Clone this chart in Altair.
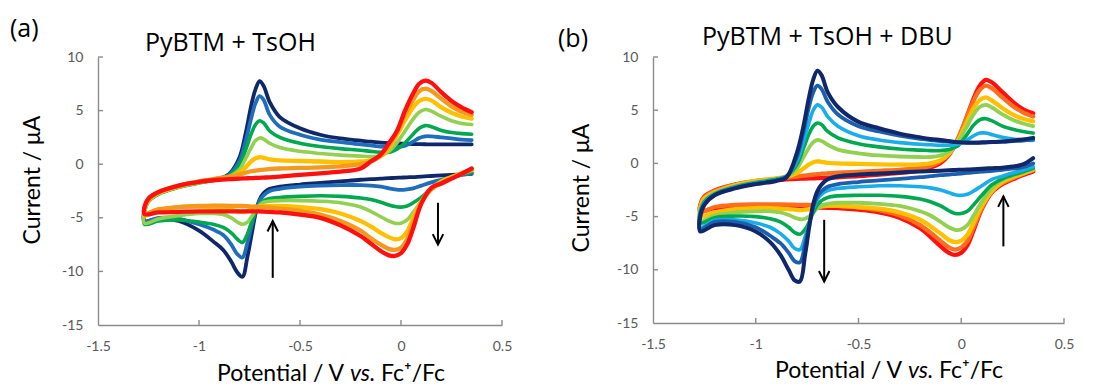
import altair as alt
import pandas as pd

# ---------------------------------------------------------------------------
# Potential grids (V vs. Fc+/Fc). Each scan starts at +0.35 V, runs cathodic
# (X_DN) to -1.27 V and returns anodic (X_UP) to +0.35 V.
# ---------------------------------------------------------------------------
X_UP = [-1.27, -1.25, -1.2, -1.1, -1.0, -0.9, -0.85, -0.8, -0.77, -0.74,
        -0.72, -0.70, -0.68, -0.65, -0.6, -0.5, -0.4, -0.3, -0.2, -0.15,
        -0.1, -0.06, -0.02, 0.02, 0.06, 0.09, 0.12, 0.15, 0.2, 0.25,
        0.3, 0.35]
X_DN = [0.35, 0.3, 0.25, 0.2, 0.15, 0.1, 0.06, 0.03, 0.0, -0.03,
        -0.06, -0.1, -0.15, -0.2, -0.3, -0.4, -0.5, -0.6, -0.65, -0.68,
        -0.7, -0.72, -0.74, -0.76, -0.785, -0.81, -0.84, -0.88, -0.93, -1.0,
        -1.1, -1.2, -1.27]

# ---------------------------------------------------------------------------
# (a) PyBTM + TsOH : current (uA)
# ---------------------------------------------------------------------------
A_NAVY_UP = [-4.2, -3.3, -2.7, -2.1, -1.7, -1.35, -0.9, 0.6, 2.8, 5.6,
             7.0, 7.75, 7.3, 5.8, 4.4, 3.35, 2.75, 2.4, 2.2, 2.1,
             2.02, 1.97, 1.93, 1.9, 1.88, 1.87, 1.86, 1.85, 1.85, 1.85,
             1.85, 1.85]
A_NAVY_DN = [-0.9, -0.95, -1.0, -1.05, -1.1, -1.15, -1.2, -1.22, -1.25, -1.28,
             -1.3, -1.35, -1.4, -1.45, -1.6, -1.75, -1.9, -2.1, -2.3, -2.7,
             -3.3, -4.6, -6.6, -8.6, -10.5, -10.1, -9.1, -8.0, -7.2, -6.2,
             -5.3, -5.1, -5.3]
A_BLUE_UP = [-4.3, -3.4, -2.75, -2.1, -1.7, -1.35, -0.95, 0.3, 2.1, 4.4,
             5.7, 6.35, 6.0, 4.6, 3.5, 2.75, 2.3, 2.05, 1.85, 1.75,
             1.65, 1.6, 1.58, 1.72, 2.1, 2.45, 2.6, 2.6, 2.5, 2.4,
             2.3, 2.25]
A_BLUE_DN = [-0.85, -1.0, -1.2, -1.45, -1.7, -2.0, -2.25, -2.35, -2.4, -2.35,
             -2.25, -2.1, -2.0, -1.95, -1.95, -2.0, -2.1, -2.3, -2.5, -2.9,
             -3.4, -4.4, -5.8, -7.3, -8.7, -8.4, -7.5, -6.6, -6.1, -5.6,
             -5.1, -5.0, -5.3]
A_GREEN_UP = [-4.5, -3.5, -2.8, -2.15, -1.75, -1.4, -1.05, -0.1, 1.3, 2.9,
              3.7, 4.05, 3.85, 3.1, 2.5, 1.95, 1.65, 1.45, 1.3, 1.2,
              1.12, 1.1, 1.4, 2.0, 2.8, 3.35, 3.6, 3.5, 3.15, 2.95,
              2.85, 2.8]
A_GREEN_DN = [-0.75, -0.95, -1.2, -1.6, -2.3, -3.1, -3.6, -3.9, -4.0, -3.95,
              -3.8, -3.55, -3.3, -3.15, -3.0, -2.95, -3.0, -3.1, -3.2, -3.4,
              -3.7, -4.4, -5.4, -6.5, -7.3, -7.0, -6.4, -5.9, -5.6, -5.4,
              -5.2, -5.3, -5.6]
A_LGREEN_UP = [-4.4, -3.45, -2.75, -2.15, -1.75, -1.4, -1.15, -0.5, 0.5, 1.6,
               2.2, 2.45, 2.35, 1.95, 1.55, 1.2, 1.0, 0.85, 0.75, 0.72,
               0.78, 1.2, 2.0, 3.1, 4.2, 4.85, 5.1, 4.95, 4.45, 4.05,
               3.8, 3.7]
A_LGREEN_DN = [-0.6, -0.9, -1.2, -1.7, -2.4, -3.5, -4.5, -5.2, -5.5, -5.5,
               -5.3, -4.9, -4.4, -4.0, -3.6, -3.45, -3.4, -3.4, -3.45, -3.55,
               -3.8, -4.3, -4.9, -5.4, -5.6, -5.4, -5.0, -4.7, -4.6, -4.6,
               -4.8, -5.1, -5.5]
A_YELLOW_UP = [-4.3, -3.35, -2.7, -2.05, -1.65, -1.35, -1.2, -0.8, -0.3, 0.3,
               0.55, 0.65, 0.6, 0.45, 0.35, 0.3, 0.25, 0.2, 0.25, 0.35,
               0.75, 1.5, 2.7, 4.1, 5.3, 5.9, 6.1, 5.95, 5.3, 4.8,
               4.45, 4.25]
A_YELLOW_DN = [-0.5, -0.85, -1.2, -1.6, -2.3, -3.5, -5.0, -6.3, -6.9, -7.0,
               -6.8, -6.4, -5.8, -5.3, -4.6, -4.2, -4.0, -3.9, -3.9, -3.9,
               -3.95, -4.05, -4.2, -4.35, -4.45, -4.4, -4.25, -4.1, -4.0, -3.95,
               -4.0, -4.3, -4.8]
A_ORANGE_UP = [-4.1, -3.3, -2.6, -2.0, -1.6, -1.3, -1.15, -0.95, -0.8, -0.65,
               -0.6, -0.55, -0.5, -0.45, -0.4, -0.35, -0.3, -0.2, 0.0, 0.25,
               0.8, 1.7, 3.0, 4.6, 6.0, 6.8, 7.05, 6.85, 6.1, 5.4,
               4.9, 4.6]
A_ORANGE_DN = [-0.5, -0.9, -1.3, -1.75, -2.3, -3.6, -5.5, -7.0, -7.8, -8.0,
               -7.9, -7.5, -6.9, -6.2, -5.3, -4.7, -4.35, -4.15, -4.05, -4.0,
               -4.0, -3.95, -3.95, -3.92, -3.9, -3.9, -3.88, -3.87, -3.87, -3.9,
               -4.0, -4.2, -4.6]
A_RED_UP = [-4.0, -3.2, -2.6, -2.0, -1.65, -1.45, -1.4, -1.35, -1.32, -1.3,
            -1.28, -1.27, -1.25, -1.22, -1.15, -1.0, -0.85, -0.7, -0.4, 0.25,
            0.9, 1.95, 3.1, 5.0, 6.6, 7.5, 7.8, 7.6, 6.7, 5.9,
            5.3, 4.85]
A_RED_DN = [-0.4, -0.9, -1.35, -1.8, -2.2, -3.7, -6.0, -7.5, -8.3, -8.55,
            -8.5, -8.1, -7.4, -6.7, -5.7, -5.0, -4.7, -4.5, -4.45, -4.42,
            -4.4, -4.4, -4.4, -4.4, -4.4, -4.4, -4.4, -4.4, -4.4, -4.4,
            -4.45, -4.5, -4.65]

# ---------------------------------------------------------------------------
# (b) PyBTM + TsOH + DBU : current (uA)
# ---------------------------------------------------------------------------
B_RED_UP = [-3.9, -3.1, -2.55, -2.0, -1.7, -1.55, -1.5, -1.45, -1.43, -1.41,
            -1.4, -1.39, -1.38, -1.35, -1.3, -1.2, -1.05, -0.9, -0.65, -0.4,
            0.05, 0.8, 2.1, 4.0, 6.1, 7.3, 7.85, 7.6, 6.7, 5.8,
            5.1, 4.7]
B_RED_DN = [-0.75, -1.1, -1.5, -1.95, -2.7, -4.3, -6.3, -7.7, -8.4, -8.6,
            -8.4, -7.8, -6.9, -6.1, -5.1, -4.6, -4.35, -4.2, -4.17, -4.16,
            -4.15, -4.15, -4.15, -4.15, -4.15, -4.15, -4.13, -4.12, -4.1, -4.1,
            -4.1, -4.2, -4.5]
B_ORANGE_UP = [-4.0, -3.2, -2.6, -2.0, -1.65, -1.45, -1.35, -1.25, -1.15, -1.1,
               -1.05, -1.0, -0.97, -0.93, -0.88, -0.8, -0.7, -0.6, -0.45, -0.25,
               0.2, 0.9, 2.2, 4.0, 5.9, 6.9, 7.3, 7.05, 6.2, 5.4,
               4.8, 4.4]
B_ORANGE_DN = [-0.65, -1.0, -1.4, -1.85, -2.6, -4.2, -6.0, -7.3, -7.9, -8.1,
               -7.9, -7.3, -6.5, -5.8, -4.9, -4.4, -4.15, -4.0, -3.95, -3.95,
               -3.9, -3.9, -3.9, -3.9, -3.9, -3.88, -3.87, -3.86, -3.85, -3.85,
               -3.9, -4.1, -4.6]
B_YELLOW_UP = [-4.2, -3.3, -2.7, -2.05, -1.65, -1.4, -1.25, -0.9, -0.5, -0.1,
               0.1, 0.2, 0.15, 0.05, 0.0, -0.05, -0.1, -0.12, -0.1, 0.0,
               0.3, 0.9, 2.0, 3.6, 5.2, 5.95, 6.2, 5.9, 5.2, 4.6,
               4.2, 3.95]
B_YELLOW_DN = [-0.6, -0.95, -1.3, -1.75, -2.6, -4.0, -5.6, -6.7, -7.25, -7.4,
               -7.2, -6.6, -5.9, -5.3, -4.6, -4.25, -4.1, -4.0, -4.0, -4.05,
               -4.1, -4.2, -4.3, -4.35, -4.4, -4.35, -4.3, -4.25, -4.2, -4.2,
               -4.3, -4.6, -5.0]
B_LGREEN_UP = [-4.4, -3.5, -2.8, -2.15, -1.75, -1.45, -1.25, -0.5, 0.5, 1.5,
               2.0, 2.2, 2.1, 1.75, 1.3, 0.95, 0.75, 0.65, 0.6, 0.6,
               0.75, 1.1, 1.9, 3.2, 4.6, 5.3, 5.5, 5.25, 4.6, 4.1,
               3.75, 3.5]
B_LGREEN_DN = [-0.55, -0.85, -1.15, -1.55, -2.3, -3.6, -4.9, -5.8, -6.2, -6.25,
               -6.0, -5.5, -4.9, -4.5, -4.0, -3.8, -3.7, -3.7, -3.8, -3.95,
               -4.2, -4.6, -5.0, -5.2, -5.25, -5.1, -4.85, -4.6, -4.5, -4.5,
               -4.6, -4.9, -5.4]
B_GREEN_UP = [-4.5, -3.6, -2.85, -2.2, -1.8, -1.5, -1.2, -0.1, 1.3, 2.8,
              3.5, 3.8, 3.65, 3.0, 2.4, 1.85, 1.55, 1.35, 1.25, 1.2,
              1.2, 1.3, 1.6, 2.5, 3.6, 4.1, 4.2, 4.0, 3.5, 3.2,
              3.0, 2.85]
B_GREEN_DN = [-0.45, -0.8, -1.1, -1.45, -2.0, -3.0, -3.9, -4.5, -4.7, -4.7,
              -4.45, -4.0, -3.6, -3.35, -3.1, -3.0, -3.0, -3.05, -3.2, -3.5,
              -3.9, -4.6, -5.5, -6.2, -6.65, -6.5, -6.0, -5.5, -5.2, -5.0,
              -4.95, -5.1, -5.6]
B_SKY_UP = [-4.6, -3.7, -2.9, -2.25, -1.85, -1.55, -1.2, 0.2, 1.9, 3.9,
            5.0, 5.5, 5.3, 4.4, 3.5, 2.6, 2.2, 1.95, 1.8, 1.75,
            1.7, 1.7, 1.8, 2.1, 2.6, 2.85, 2.85, 2.7, 2.45, 2.3,
            2.2, 2.15]
B_SKY_DN = [-0.3, -0.65, -0.9, -1.2, -1.5, -2.1, -2.6, -2.9, -3.0, -2.95,
            -2.75, -2.5, -2.3, -2.2, -2.1, -2.1, -2.2, -2.35, -2.55, -2.9,
            -3.4, -4.3, -5.6, -6.9, -8.1, -8.0, -7.3, -6.6, -6.0, -5.6,
            -5.3, -5.35, -6.0]
B_BLUE_UP = [-4.8, -3.8, -2.95, -2.3, -1.9, -1.6, -1.25, 0.6, 2.8, 5.4,
             6.7, 7.3, 7.0, 5.8, 4.6, 3.5, 3.0, 2.6, 2.3, 2.2,
             2.1, 2.05, 2.0, 1.97, 1.96, 1.97, 2.0, 2.02, 2.05, 2.1,
             2.15, 2.25]
B_BLUE_DN = [0.0, -0.35, -0.5, -0.6, -0.7, -0.78, -0.85, -0.9, -0.95, -1.0,
             -1.05, -1.1, -1.2, -1.3, -1.45, -1.6, -1.75, -1.95, -2.2, -2.6,
             -3.1, -4.1, -5.8, -7.6, -9.3, -9.2, -8.4, -7.5, -6.8, -6.0,
             -5.5, -5.5, -6.2]
B_NAVY_UP = [-5.0, -3.9, -3.0, -2.35, -1.95, -1.65, -1.3, 1.0, 3.3, 6.3,
             7.9, 8.7, 8.3, 6.7, 5.3, 3.9, 3.3, 2.8, 2.45, 2.3,
             2.2, 2.1, 2.0, 1.95, 1.93, 1.95, 1.97, 2.0, 2.05, 2.15,
             2.25, 2.4]
B_NAVY_DN = [0.5, -0.1, -0.3, -0.4, -0.45, -0.5, -0.55, -0.58, -0.6, -0.62,
             -0.65, -0.68, -0.72, -0.76, -0.85, -0.95, -1.05, -1.2, -1.5, -2.0,
             -2.6, -3.8, -6.0, -8.6, -11.1, -11.0, -10.0, -8.6, -7.4, -6.4,
             -5.8, -5.8, -6.4]

# Arrows showing the trend of the titration: x, tail current, tip current
A_ARROW_X = [-0.635, 0.183]
A_ARROW_TAIL = [-10.6, -3.6]
A_ARROW_TIP = [-5.3, -7.5]
B_ARROW_X = [-0.667, 0.205]
B_ARROW_TAIL = [-5.3, -7.8]
B_ARROW_TIP = [-11.1, -3.1]

# Axis ticks
X_LABELS = [-1.5, -1.0, -0.5, 0.0, 0.5]
Y_LABELS = [-15, -10, -5, 0, 5, 10]
X_TICKS = [-1.0, -0.5, 0.0, 0.5]
Y_TICKS = [-10, -5, 0, 5, 10]

NAVY = "#10286a"
BLUE_A = "#1f6ebc"
BLUE_B = "#1b5fae"
SKY = "#19aee8"
GREEN = "#00a94f"
LGREEN = "#92d050"
YELLOW = "#ffc000"
ORANGE_A = "#f39a1e"
ORANGE_B = "#ff6d1f"
RED = "#ff1010"
AXIS_GRAY = "#8c8c8c"
LABEL_GRAY = "#595959"

TITLE_FONT = "Open Sans"
AXIS_FONT = "Lato"

XS = alt.Scale(domain=[-1.5, 0.5], nice=False, zero=False)
YS = alt.Scale(domain=[-15, 10], nice=False, zero=False)

X_AXIS = alt.Axis(values=X_LABELS, labelExpr="'' + datum.value", title=None,
                  ticks=False, grid=False, domainColor=AXIS_GRAY, domainWidth=1.4,
                  labelColor=LABEL_GRAY, labelFont=AXIS_FONT, labelFontSize=14,
                  labelPadding=14, labelFlush=False, labelOverlap=False)
Y_AXIS = alt.Axis(values=Y_LABELS, labelExpr="'' + datum.value", title=None,
                  ticks=False, grid=False, domainColor=AXIS_GRAY, domainWidth=1.4,
                  labelColor=LABEL_GRAY, labelFont=AXIS_FONT, labelFontSize=14,
                  labelPadding=15, labelFlush=False, labelOverlap=False)


def scan_frame(up, dn):
    """One voltammogram: cathodic sweep from +0.35 V, then the anodic return."""
    assert len(up) == len(X_UP) and len(dn) == len(X_DN)
    xs = X_DN + X_UP
    ys = dn + up
    return pd.DataFrame({"x": xs, "y": ys, "i": list(range(len(xs)))})


def curve(up, dn, color, width):
    return alt.Chart(scan_frame(up, dn)).mark_line(
        color=color, strokeWidth=width, interpolate="catmull-rom",
        strokeJoin="round", strokeCap="round"
    ).encode(
        x=alt.X("x:Q", scale=XS, axis=X_AXIS),
        y=alt.Y("y:Q", scale=YS, axis=Y_AXIS),
        order="i:Q",
    )


def ticks(h):
    xt = alt.Chart(pd.DataFrame({"v": X_TICKS})).mark_rule(
        color=AXIS_GRAY, strokeWidth=1.4
    ).encode(x=alt.X("v:Q", scale=XS, axis=X_AXIS), y=alt.value(h), y2=alt.value(h - 5))
    yt = alt.Chart(pd.DataFrame({"v": Y_TICKS})).mark_rule(
        color=AXIS_GRAY, strokeWidth=1.4
    ).encode(y=alt.Y("v:Q", scale=YS, axis=Y_AXIS), x=alt.value(0), x2=alt.value(5))
    return [xt, yt]


def arrows(xs, tails, tips):
    df = pd.DataFrame({"x": xs, "tail": tails, "tip": tips,
                       "up": [tp > tl for tp, tl in zip(tips, tails)]})
    shaft = alt.Chart(df).mark_rule(color="black", strokeWidth=2).encode(
        x=alt.X("x:Q", scale=XS, axis=X_AXIS),
        y=alt.Y("tail:Q", scale=YS, axis=Y_AXIS), y2="tip:Q")
    head_up = alt.Chart(df[df["up"]]).mark_point(
        shape="M-1,2L0,0L1,2", filled=False, stroke="black", strokeWidth=2,
        size=110, opacity=1
    ).encode(x=alt.X("x:Q", scale=XS, axis=X_AXIS), y=alt.Y("tip:Q", scale=YS, axis=Y_AXIS))
    head_dn = alt.Chart(df[~df["up"]]).mark_point(
        shape="M-1,-2L0,0L1,-2", filled=False, stroke="black", strokeWidth=2,
        size=110, opacity=1
    ).encode(x=alt.X("x:Q", scale=XS, axis=X_AXIS), y=alt.Y("tip:Q", scale=YS, axis=Y_AXIS))
    return [shaft, head_up, head_dn]


def text(t, x, y, size, font, align="left", baseline="alphabetic", angle=0, style="normal"):
    return alt.Chart(pd.DataFrame({"t": [t]})).mark_text(
        align=align, baseline=baseline, fontSize=size, font=font,
        fontStyle=style, angle=angle, color="black"
    ).encode(text="t:N", x=alt.value(x), y=alt.value(y))


def decorations(tag, tag_xy, title, title_xy, ytitle_xy, xt_x, xt_y):
    return [
        text(tag, tag_xy[0], tag_xy[1], 25, TITLE_FONT, baseline="top"),
        text(title, title_xy[0], title_xy[1], 25, TITLE_FONT),
        text("Current / \u03bcA", ytitle_xy[0], ytitle_xy[1], 23, AXIS_FONT,
             align="center", baseline="middle", angle=270),
        text("Potential / V", xt_x[0], xt_y, 23, AXIS_FONT),
        text("vs.", xt_x[1], xt_y, 23, AXIS_FONT, style="italic"),
        text("Fc\u207a/Fc", xt_x[2], xt_y, 23, AXIS_FONT),
    ]


W_A, H_A = 404, 268
W_B, H_B = 411, 266

panel_a_curves = [
    curve(A_NAVY_UP, A_NAVY_DN, NAVY, 3.8),
    curve(A_BLUE_UP, A_BLUE_DN, BLUE_A, 3.8),
    curve(A_GREEN_UP, A_GREEN_DN, GREEN, 3.6),
    curve(A_LGREEN_UP, A_LGREEN_DN, LGREEN, 3.6),
    curve(A_YELLOW_UP, A_YELLOW_DN, YELLOW, 4.3),
    curve(A_ORANGE_UP, A_ORANGE_DN, ORANGE_A, 4.3),
    curve(A_RED_UP, A_RED_DN, RED, 4.3),
]
panel_b_curves = [
    curve(B_RED_UP, B_RED_DN, RED, 4.3),
    curve(B_ORANGE_UP, B_ORANGE_DN, ORANGE_B, 4.3),
    curve(B_YELLOW_UP, B_YELLOW_DN, YELLOW, 4.3),
    curve(B_LGREEN_UP, B_LGREEN_DN, LGREEN, 3.8),
    curve(B_GREEN_UP, B_GREEN_DN, GREEN, 3.6),
    curve(B_SKY_UP, B_SKY_DN, SKY, 3.6),
    curve(B_BLUE_UP, B_BLUE_DN, BLUE_B, 3.8),
    curve(B_NAVY_UP, B_NAVY_DN, NAVY, 4.0),
]

panel_a = alt.layer(
    *ticks(H_A), *panel_a_curves, *arrows(A_ARROW_X, A_ARROW_TAIL, A_ARROW_TIP),
    *decorations("(a)", (-88, -40), "PyBTM + TsOH", (47, -6), (-65, 123),
                 (119, 252, 283), 324),
).properties(width=W_A, height=H_A)

panel_b = alt.layer(
    *ticks(H_B), *panel_b_curves, *arrows(B_ARROW_X, B_ARROW_TAIL, B_ARROW_TIP),
    *decorations("(b)", (-95, -30), "PyBTM + TsOH + DBU", (49, -12), (-71, 131),
                 (122, 255, 286), 321),
).properties(width=W_B, height=H_B)

chart = alt.hconcat(panel_a, panel_b, spacing=151, bounds="flush").properties(
    padding={"left": 10, "top": 17, "right": 20, "bottom": 3},
    background="white",
).configure_view(strokeWidth=0)

chart.save("out.html", embed_options={"renderer": "svg", "actions": False})
